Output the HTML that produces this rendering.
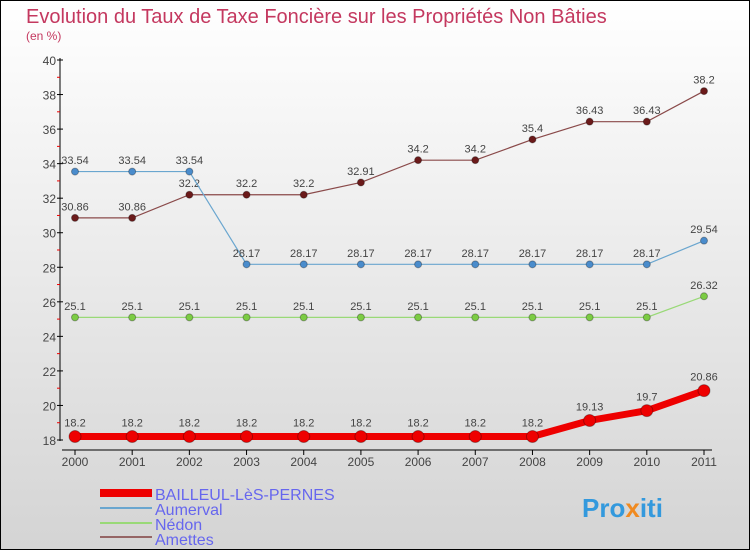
<!DOCTYPE html>
<html><head><meta charset="utf-8"><style>
body{margin:0}
svg text{font-family:"Liberation Sans",sans-serif}
</style></head><body>
<svg id="c" width="750" height="550" xmlns="http://www.w3.org/2000/svg">
<defs><linearGradient id="bg" x1="0" y1="0" x2="0" y2="1"><stop offset="0" stop-color="#ffffff"/><stop offset="1" stop-color="#d4d4d4"/></linearGradient></defs>
<rect x="0.5" y="0.5" width="749" height="549" fill="url(#bg)" stroke="#000"/>
<text x="26" y="23" font-size="20" fill="#c4385f">Evolution du Taux de Taxe Foncière sur les Propriétés Non Bâties</text>
<text x="26" y="40" font-size="12" fill="#c4385f">(en %)</text>
<g id="axes"></g><g id="series"></g>
<g>
<rect x="100" y="489" width="52" height="8" fill="#e00"/>
<text x="155" y="500" font-size="16" fill="#6666ee">BAILLEUL-LèS-PERNES</text>
<line x1="100" y1="508" x2="152" y2="508" stroke="#6aa6cf" stroke-width="2"/>
<text x="155" y="515" font-size="16" fill="#6666ee">Aumerval</text>
<line x1="100" y1="523" x2="152" y2="523" stroke="#99d977" stroke-width="2"/>
<text x="155" y="530" font-size="16" fill="#6666ee">Nédon</text>
<line x1="100" y1="537" x2="152" y2="537" stroke="#956565" stroke-width="2"/>
<text x="155" y="545" font-size="16" fill="#6666ee">Amettes</text>
</g>
<text x="582" y="517" font-size="26" font-weight="bold" fill="#3399dd">Pro<tspan fill="#f08a20">x</tspan>iti</text>
</svg>
<script>
const years=[2000,2001,2002,2003,2004,2005,2006,2007,2008,2009,2010,2011];
const yTicks=[18,20,22,24,26,28,30,32,34,36,38,40];
const bailleul=[18.2,18.2,18.2,18.2,18.2,18.2,18.2,18.2,18.2,19.13,19.7,20.86];
const aumerval=[33.54,33.54,33.54,28.17,28.17,28.17,28.17,28.17,28.17,28.17,28.17,29.54];
const nedon=[25.1,25.1,25.1,25.1,25.1,25.1,25.1,25.1,25.1,25.1,25.1,26.32];
const amettes=[30.86,30.86,32.2,32.2,32.2,32.91,34.2,34.2,35.4,36.43,36.43,38.2];
const NS="http://www.w3.org/2000/svg";
const X=i=>75+i*(704-75)/11, Y=v=>440-(v-18)*(380/22);
function mk(t,a,p){const e=document.createElementNS(NS,t);for(const k in a)e.setAttribute(k,a[k]);p.appendChild(e);return e;}
const ax=document.getElementById('axes'), se=document.getElementById('series');
let l=mk('line',{x1:60,y1:58,x2:60,y2:441,stroke:'#000'},ax);


l=mk('line',{x1:62,y1:450,x2:712,y2:450,stroke:'#000'},ax);


yTicks.forEach((v,i)=>{const y=Y(v);mk('line',{x1:57,y1:y,x2:63,y2:y,stroke:'#000'},ax);
if(i<yTicks.length-1)mk('line',{x1:57,y1:Y(v+1),x2:60,y2:Y(v+1),stroke:'#e00'},ax);
const t=mk('text',{x:56,y:y+5,'font-size':12,fill:'#444','text-anchor':'end'},ax);t.textContent=v;

});
years.forEach((yr,i)=>{const x=X(i);mk('line',{x1:x,y1:450,x2:x,y2:455,stroke:'#000'},ax);
const t=mk('text',{x:x,y:466,'font-size':12,fill:'#444','text-anchor':'middle'},ax);t.textContent=yr;

});
function draw(vals,name,color,w,r,dot){const g=mk('g',{},se);


mk('polyline',{points:vals.map((v,i)=>X(i)+','+Y(v)).join(' '),fill:'none',stroke:color,'stroke-width':w},g);
vals.forEach((v,i)=>{const c=mk('circle',{cx:X(i),cy:Y(v),r:r,fill:dot,stroke:'rgba(0,0,0,0.3)','stroke-width':1},g);


const t=mk('text',{x:X(i),y:Y(v)-(r+4),'font-size':11,fill:'#444','text-anchor':'middle'},g);t.textContent=v;

});}
draw(amettes,'amettes','#8a4a4a',1.2,3.5,'#6b1a1a');
draw(aumerval,'aumerval','#6aa6cf',1.2,3.5,'#4a8ccc');
draw(nedon,'nedon','#99d977',1.2,3.5,'#7ccc44');
draw(bailleul,'bailleul','#ee0000',7,6,'#ee0000');
</script>
</body></html>
